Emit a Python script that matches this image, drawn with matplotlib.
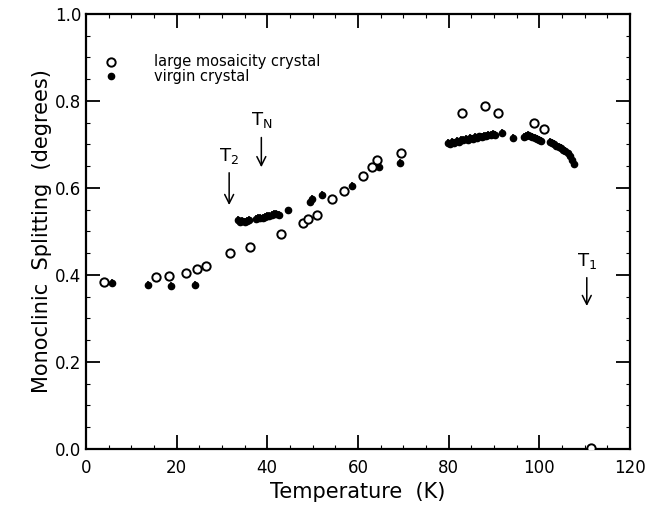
import numpy as np
import matplotlib.pyplot as plt
from matplotlib.ticker import MultipleLocator

# large mosaicity crystal (open circles)
T_open = [3.9, 15.4, 18.4, 22.0, 24.4, 26.4, 31.8, 36.1, 43.0, 48.0, 48.9, 51.0,
          54.3, 56.9, 61.2, 63.1, 64.2, 69.6, 83.0, 88.0, 91.0, 98.8, 101.0, 111.5]
S_open = [0.383, 0.395, 0.398, 0.405, 0.414, 0.421, 0.450, 0.464, 0.494, 0.520, 0.529, 0.538,
          0.575, 0.593, 0.628, 0.648, 0.664, 0.680, 0.772, 0.789, 0.772, 0.749, 0.736, 0.002]

# virgin crystal (filled circles)
T_fill = [5.8, 13.6, 18.8, 24.0, 33.5, 34.0, 34.5, 35.0, 35.5, 36.0, 37.5, 38.0, 38.5,
          39.0, 39.5, 40.0, 40.5, 41.0, 41.5, 42.0, 42.5, 44.5, 49.5, 49.9, 52.1, 58.6,
          64.6, 69.4, 79.8, 80.3, 80.8, 81.3, 81.8, 82.3, 82.8, 83.3, 83.8, 84.3, 84.8,
          85.3, 85.8, 86.3, 86.8, 87.3, 87.8, 88.3, 88.8, 89.3, 89.8, 90.3, 91.7, 94.3,
          96.6, 97.0, 97.5, 98.0, 98.5, 99.0, 99.5, 100.0, 100.5, 102.3, 102.8, 103.3,
          103.8, 104.3, 104.8, 105.3, 105.8, 106.3, 106.8, 107.3, 107.7]
S_fill = [0.381, 0.377, 0.375, 0.377, 0.527, 0.522, 0.524, 0.521, 0.523, 0.526, 0.529,
          0.530, 0.531, 0.531, 0.534, 0.535, 0.536, 0.537, 0.539, 0.540, 0.538, 0.548,
          0.568, 0.575, 0.584, 0.605, 0.648, 0.657, 0.703, 0.701, 0.705, 0.704, 0.707,
          0.706, 0.709, 0.710, 0.712, 0.711, 0.714, 0.713, 0.716, 0.715, 0.718, 0.717,
          0.719, 0.720, 0.721, 0.722, 0.723, 0.722, 0.726, 0.715, 0.716, 0.719, 0.721,
          0.718, 0.716, 0.714, 0.712, 0.710, 0.707, 0.706, 0.703, 0.700, 0.697, 0.694,
          0.691, 0.688, 0.684, 0.679, 0.672, 0.663, 0.655]
err = 0.009

# transition arrows: label, temperature, arrow top, arrow bottom
arrows = [('T$_2$', 31.6, 0.641, 0.554),
          ('T$_\\mathrm{N}$', 38.7, 0.722, 0.641),
          ('T$_1$', 110.5, 0.400, 0.322)]

plt.rcParams['font.family'] = ['DejaVu Sans']
fig = plt.figure(figsize=[6.46, 5.09], dpi=100)
ax = fig.add_axes([0.133, 0.118, 0.842, 0.855])

ax.errorbar(T_fill, S_fill, yerr=err, fmt='o', color='black', ms=4.5,
            elinewidth=1.2, capsize=0, zorder=3)
ax.plot(T_open, S_open, 'o', mfc='white', mec='black', ms=6, mew=1.4, zorder=4)

for lab, T, top, bot in arrows:
    ax.annotate('', xy=(T, bot), xytext=(T, top),
                arrowprops=dict(arrowstyle='->', color='black', lw=1.1,
                                mutation_scale=16))
    ax.text(T, top + 0.01, lab, ha='center', va='bottom', fontsize=13)

# legend drawn by hand like the original
ax.plot([5.6], [0.889], 'o', mfc='white', mec='black', ms=6, mew=1.4)
ax.plot([5.6], [0.857], 'o', color='black', ms=4.5)
ax.text(15.0, 0.890, 'large mosaicity crystal', va='center', fontsize=10.5)
ax.text(15.0, 0.856, 'virgin crystal', va='center', fontsize=10.5)

ax.set_xlim(0, 120)
ax.set_ylim(0, 1.0)
ax.xaxis.set_major_locator(MultipleLocator(20))
ax.xaxis.set_minor_locator(MultipleLocator(5))
ax.yaxis.set_major_locator(MultipleLocator(0.2))
ax.yaxis.set_minor_locator(MultipleLocator(0.05))
ax.tick_params(which='both', direction='in', top=True, right=True, labelsize=12)
ax.tick_params(which='major', length=10, width=1.3)
ax.tick_params(axis='x', which='major', pad=7)
ax.tick_params(which='minor', length=3, width=0.8)
ax.set_yticks([0.0, 0.2, 0.4, 0.6, 0.8, 1.0])
ax.set_yticklabels(['0.0', '0.2', '0.4', '0.6', '0.8', '1.0'])
for s in ax.spines.values():
    s.set_linewidth(1.6)

ax.set_xlabel('Temperature  (K)', fontsize=15, labelpad=4)
ax.set_ylabel('Monoclinic  Splitting  (degrees)', fontsize=15, labelpad=2)

fig.savefig('out.png', dpi=100)
